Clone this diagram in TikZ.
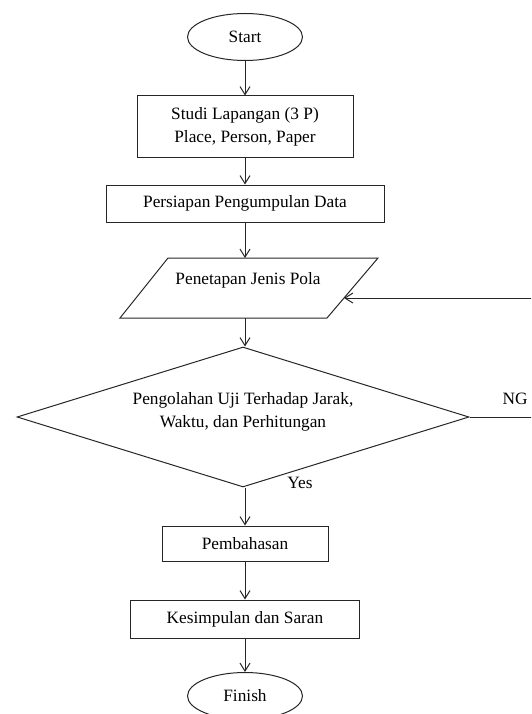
\documentclass[tikz,border=0pt]{standalone}
\usepackage{fontspec}
\setmainfont{Liberation Serif}
\usetikzlibrary{arrows.meta,shapes.geometric,calc}
\begin{document}
\begin{tikzpicture}[x=1pt,y=-1pt,line width=1pt,
  txt/.style={font=\fontsize{17.3}{23}\selectfont,align=center,inner sep=0pt},
  box/.style={draw=black!85,rectangle,inner sep=0pt,txt},
  term/.style={draw=black!85,ellipse,minimum width=115pt,minimum height=47pt,inner sep=0pt,txt},
  arr/.style={draw=black!85,-{Straight Barb[length=8pt,width=10pt]}}
]
\path[use as bounding box,clip] (0,0) rectangle (531,714);
\node[term] (start) at (245,37) {Start};
\node[box,minimum width=216pt,minimum height=62pt] (b1) at (245,127) {Studi Lapangan (3 P)\\Place, Person, Paper};
\node[box,minimum width=278pt,minimum height=37pt] (b2) at (245,203.5) {Persiapan Pengumpulan Data};
\coordinate (pTL) at (168,258);
\coordinate (pTR) at (378,258);
\coordinate (pBR) at (327,318);
\coordinate (pBL) at (120,318);
\draw[draw=black!85] (pTL) -- (pTR) -- (pBR) -- (pBL) -- cycle;
\node[txt] (partxt) at (248,280) {Penetapan Jenis Pola};
\node[draw=black!85,diamond,minimum width=452pt,minimum height=140pt,inner sep=0pt] (dec) at (243,417) {};
\node[txt] (dectxt) at (243,412) {Pengolahan Uji Terhadap Jarak,\\Waktu, dan Perhitungan};
\node[box,minimum width=166pt,minimum height=35pt] (b3) at (245,543.5) {Pembahasan};
\node[box,minimum width=229pt,minimum height=38pt] (b4) at (245,619) {Kesimpulan dan Saran};
\node[term] (finish) at (245,696) {Finish};
\node[txt] (ng) at (515,399) {NG};
\node[txt] (yes) at (300,483) {Yes};
\coordinate (ret) at ($(pTR)!0.667!(pBR)$);
\draw[arr] (start) -- (b1);
\draw[arr] (b1) -- (b2);
\draw[arr] (b2.south) -- (b2.south |- pTL);
\draw[arr] (b2.south |- pBL) -- (b2.south |- dec.north);
\draw[arr] (dec.south -| b2.south) -- (b3.north);
\draw[arr] (b3) -- (b4);
\draw[arr] (b4) -- (finish);
\draw[arr] (dec.east) -- ++(72,0) |- (ret);
\end{tikzpicture}
\end{document}
